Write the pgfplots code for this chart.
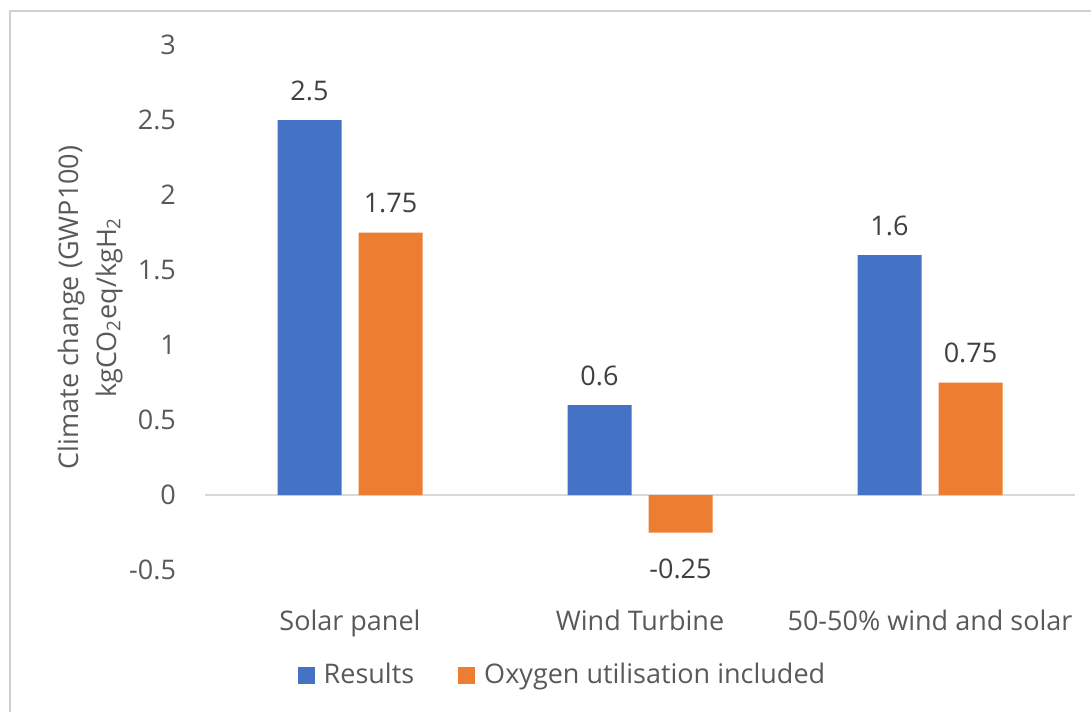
\documentclass[border=0pt]{standalone}
\usepackage{pgfplots}
\pgfplotsset{compat=1.18}
\usepackage{fontspec}
\setmainfont{Open Sans}
\definecolor{resblue}{HTML}{4472C4}
\definecolor{oxyorange}{HTML}{ED7D31}
\definecolor{axisgray}{HTML}{D9D9D9}
\definecolor{framegray}{HTML}{D0D0D0}
\definecolor{labelgray}{HTML}{595959}
\definecolor{datagray}{HTML}{404040}
\begin{document}
\begin{tikzpicture}
% canvas: 1 px of the reference = 0.5pt
\useasboundingbox (0pt,0pt) rectangle (545.5pt,-356pt);
\draw[framegray, line width=0.8pt] (5pt,-356pt) -- (5pt,-5.5pt) -- (545.5pt,-5.5pt);
\begin{axis}[
    at={(102.5pt,-285pt)}, anchor=south west,
    scale only axis,
    width=435pt, height=262.5pt,
    ybar=8.5pt, bar width=32pt,
    xmin=-0.5, xmax=2.5,
    ymin=-0.5, ymax=3,
    xtick={0,1,2},
    xticklabels={Solar panel, Wind Turbine, 50-50\% wind and solar},
    ytick={-0.5,0,0.5,1,1.5,2,2.5,3},
    yticklabels={-0.5,0,0.5,1,1.5,2,2.5,3},
    axis line style={draw=none},
    tick style={draw=none},
    font=\fontsize{13.5pt}{16pt}\selectfont,
    tick label style={color=labelgray},
    yticklabel style={xshift=-11pt},
    xticklabel style={anchor=base, yshift=-26pt},
    ylabel={Climate change (GWP100)\\kgCO\textsubscript{2}eq/kgH\textsubscript{2}},
    ylabel style={at={(rel axis cs:-0.132,0.5)}, anchor=center, align=center,
        color=labelgray, font=\fontsize{13.5pt}{19pt}\selectfont},
    nodes near coords,
    /pgf/number format/assume math mode=true,
    visualization depends on={y \as \rawy},
    every node near coord/.append style={color=datagray, inner ysep=9.5pt,
        yshift={(\rawy<0)*(-3.5pt)}},
    legend columns=2,
    legend style={at={(rel axis cs:0.412,-0.2)}, anchor=center, draw=none, fill=none,
        font=\fontsize{13.5pt}{16pt}\selectfont, text=labelgray,
        /tikz/every odd column/.append style={column sep=2.5pt},
        /tikz/every even column/.append style={column sep=20pt}},
    legend image code/.code={\fill[#1] (0pt,-4.25pt) rectangle (8.5pt,4.25pt);},
]
\draw[axisgray, line width=1pt] (axis cs:-0.5,0) -- (axis cs:2.5,0);
\addplot[fill=resblue, draw=none] coordinates {(0,2.5) (1,0.6) (2,1.6)};
\addlegendentry{Results}
\addplot[fill=oxyorange, draw=none] coordinates {(0,1.75) (1,-0.25) (2,0.75)};
\addlegendentry{Oxygen utilisation included}
\end{axis}
\end{tikzpicture}
\end{document}
